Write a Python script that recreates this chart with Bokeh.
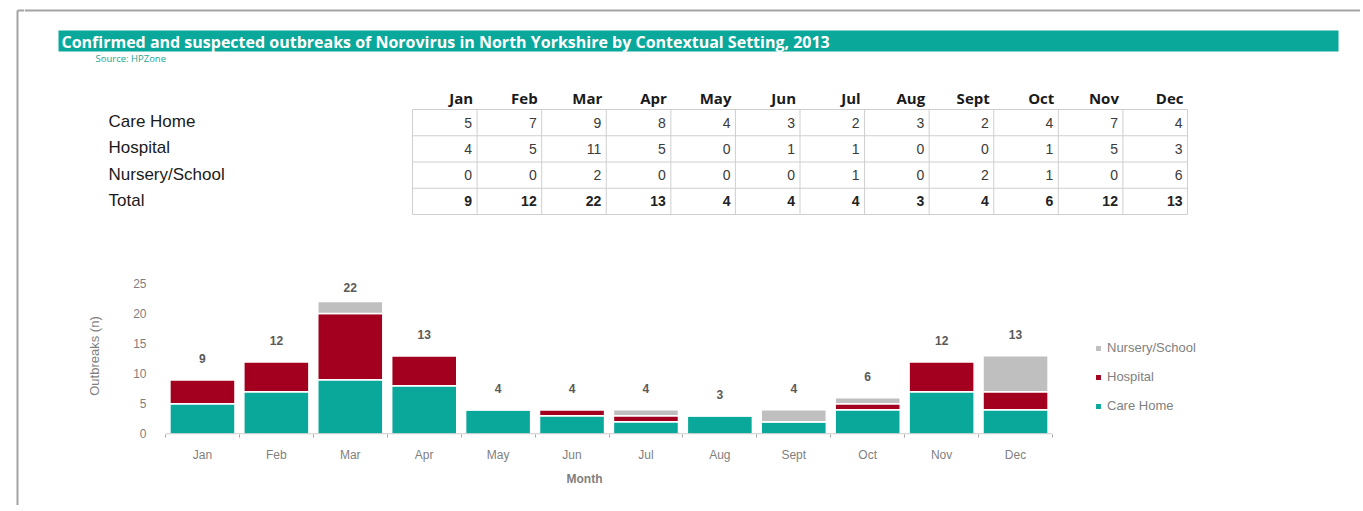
from bokeh.plotting import figure
from bokeh.layouts import column, row
from bokeh.models import (Range1d, FixedTicker, Legend, LegendItem, ColumnDataSource, Title)
from bokeh.core.properties import value
from bokeh.embed import file_html
from bokeh.resources import INLINE

# ---------------- data ----------------
months = ["Jan", "Feb", "Mar", "Apr", "May", "Jun", "Jul", "Aug", "Sept", "Oct", "Nov", "Dec"]
row_labels = ["Care Home", "Hospital", "Nursery/School", "Total"]
care_home = [5, 7, 9, 8, 4, 3, 2, 3, 2, 4, 7, 4]
hospital = [4, 5, 11, 5, 0, 1, 1, 0, 0, 1, 5, 3]
nursery = [0, 0, 2, 0, 0, 0, 1, 0, 2, 1, 0, 6]
total = [9, 12, 22, 13, 4, 4, 4, 3, 4, 6, 12, 13]
y_ticks = [0, 5, 10, 15, 20, 25]

title_text = "Confirmed and suspected outbreaks of Norovirus in North Yorkshire by Contextual Setting, 2013"
source_text = "Source: HPZone"
x_title = "Month"
y_title = "Outbreaks (n)"

TEAL = "#0aa89a"
RED = "#a3001f"
GREY = "#bfbfbf"
BORDER = "#a3a3a3"

TOTAL_W = 1360
TOTAL_H = 505
STRIP_W = 24
H_TOP = 260
W_MAIN = TOTAL_W - STRIP_W


def blank(fig):
    fig.axis.visible = False
    fig.grid.visible = False
    fig.outline_line_color = None
    return fig


# ---------------- left strip (document frame corner) ----------------
strip = blank(figure(width=STRIP_W, height=TOTAL_H, x_range=Range1d(0, STRIP_W), y_range=Range1d(TOTAL_H, 0),
                     output_backend="svg", toolbar_location=None, min_border=0, frame_align=False))
strip.segment(x0=[17, 17], y0=[10, 10], x1=[17, STRIP_W], y1=[TOTAL_H, 10], line_color=BORDER, line_width=2)

# ---------------- top section (title + table) ----------------
top = blank(figure(width=W_MAIN, height=H_TOP, x_range=Range1d(STRIP_W, TOTAL_W), y_range=Range1d(H_TOP, 0),
                   output_backend="svg", toolbar_location=None, min_border=0, frame_align=False))
top.segment(x0=[STRIP_W], y0=[10], x1=[TOTAL_W], y1=[10], line_color=BORDER, line_width=2)

# title bar
top.quad(left=[58], right=[1338], top=[30], bottom=[51], fill_color=TEAL, line_color=None)
top.text(x=[61], y=[41], text=[title_text], text_color="white", text_font=value("Open Sans"),
         text_font_style="bold", text_font_size="16px", text_baseline="middle", text_align="left")
top.text(x=[95], y=[58], text=[source_text], text_color="#1aa593", text_font=value("Open Sans"),
         text_font_size="9.5px", text_baseline="middle", text_align="left")

# table geometry
t_left, t_right = 412, 1187
t_top, row_h = 109, 26.25
col_w = (t_right - t_left) / len(months)
n_rows = len(row_labels)
t_bottom = t_top + row_h * n_rows

vx = [t_left + i * col_w for i in range(len(months) + 1)]
top.segment(x0=vx, y0=[t_top] * len(vx), x1=vx, y1=[t_bottom] * len(vx), line_color="#cfcfcf", line_width=1)
hy = [t_top + i * row_h for i in range(n_rows + 1)]
top.segment(x0=[t_left] * len(hy), y0=hy, x1=[t_right] * len(hy), y1=hy, line_color="#cfcfcf", line_width=1)

col_right = [t_left + (i + 1) * col_w - 4 for i in range(len(months))]
top.text(x=col_right, y=[97] * len(months), text=months, text_font=value("Open Sans"),
         text_font_style="bold", text_font_size="15px", text_color="#1a1a1a",
         text_align="right", text_baseline="middle")

row_centers = [t_top + (i + 0.5) * row_h for i in range(n_rows)]
top.text(x=[108] * n_rows, y=[c - 1 for c in row_centers], text=row_labels,
         text_font=value("Liberation Sans"), text_font_size="17px", text_color="#1a1a1a",
         text_align="left", text_baseline="middle")

series = [care_home, hospital, nursery, total]
for r, vals in enumerate(series):
    last = r == n_rows - 1
    top.text(x=[c - 1 for c in col_right], y=[row_centers[r]] * len(vals), text=[str(v) for v in vals],
             text_font=value("Liberation Sans"), text_font_size="14px",
             text_font_style="bold" if last else "normal",
             text_color="#222222" if last else "#3a3a3a",
             text_align="right", text_baseline="middle")

# ---------------- bar chart ----------------
n = len(months)
BARS_PX = 887          # width covered by the 12 month slots
FRAME_W = 1175         # plot area incl. room for the legend
FRAME_H = 157
x_end = n * FRAME_W / BARS_PX

src = ColumnDataSource(dict(
    x=[i + 0.5 for i in range(n)],
    care=care_home, hosp=hospital, nurs=nursery,
    lbl_y=[min(t + 3.5, 24.35) for t in total],
    lbl=[str(t) for t in total],
))

chart = figure(frame_width=FRAME_W, frame_height=FRAME_H, x_range=Range1d(0, x_end), y_range=Range1d(-0.1, 26),
               output_backend="svg", toolbar_location=None, frame_align=False,
               min_border_left=141, min_border_right=15, min_border_top=17,
               min_border_bottom=TOTAL_H - H_TOP - 17 - FRAME_H)
chart.grid.visible = False
chart.outline_line_color = None

rs = chart.vbar_stack(["care", "hosp", "nurs"], x="x", width=0.88, source=src,
                      color=[TEAL, RED, GREY], line_color="white", line_width=1.5)

# category axis baseline across the month slots only
chart.segment(x0=[0], y0=[0], x1=[n], y1=[0], line_color="#bfbfbf", line_width=1)

chart.text(x="x", y="lbl_y", text="lbl", source=src, text_align="center", text_baseline="middle",
           text_font=value("Liberation Sans"), text_font_size="12px", text_font_style="bold",
           text_color="#595959")

xa = chart.xaxis[0]
xa.ticker = FixedTicker(ticks=[i + 0.5 for i in range(n)], minor_ticks=list(range(n + 1)))
xa.major_label_overrides = {i + 0.5: m for i, m in enumerate(months)}
xa.major_tick_line_color = None
xa.major_tick_out = 0
xa.minor_tick_line_color = "#a6a6a6"
xa.minor_tick_out = 3
xa.minor_tick_in = 0
xa.axis_line_color = None
xa.major_label_standoff = 10
xa.major_label_text_font = "Liberation Sans"
xa.major_label_text_font_size = "12px"
xa.major_label_text_color = "#7f7f7f"

# x-axis title placed under the month slots (not the whole frame)
chart.add_layout(Title(text=x_title, align="left", offset=401, standoff=11,
                       text_font="Liberation Sans", text_font_size="12px", text_font_style="bold",
                       text_color="#7f7f7f"), "below")

ya = chart.yaxis[0]
ya.ticker = FixedTicker(ticks=y_ticks)
ya.axis_line_color = None
ya.major_tick_line_color = None
ya.minor_tick_line_color = None
ya.major_tick_out = 0
ya.major_label_standoff = 19
ya.major_label_text_font = "Liberation Sans"
ya.major_label_text_font_size = "12px"
ya.major_label_text_color = "#7f7f7f"
ya.axis_label = y_title
ya.axis_label_text_font = "Liberation Sans"
ya.axis_label_text_font_size = "13px"
ya.axis_label_text_font_style = "normal"
ya.axis_label_text_color = "#7f7f7f"
ya.axis_label_standoff = 28

legend = Legend(items=[
    LegendItem(label="Nursery/School", renderers=[rs[2]]),
    LegendItem(label="Hospital", renderers=[rs[1]]),
    LegendItem(label="Care Home", renderers=[rs[0]]),
], location=(929, 21))
legend.border_line_color = None
legend.background_fill_alpha = 0
legend.glyph_width = 8
legend.glyph_height = 8
legend.label_standoff = 5
legend.label_height = 14
legend.spacing = 14
legend.padding = 4
legend.margin = 0
legend.label_text_font = "Liberation Sans"
legend.label_text_font_size = "13px"
legend.label_text_color = "#7f7f7f"
chart.add_layout(legend, "center")

layout = row(strip, column(top, chart))

open("out.html", "w").write(file_html(layout, INLINE))
